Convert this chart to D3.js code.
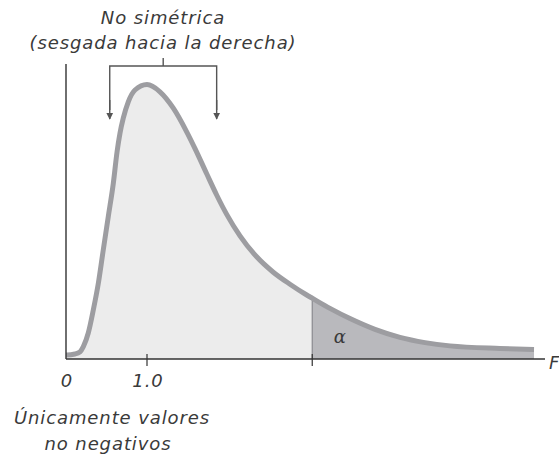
<!DOCTYPE html>
<html><head><meta charset="utf-8">
<script src="https://cdn.jsdelivr.net/npm/d3@7"></script>
<style>
body{margin:0;background:#fff;}
svg{display:block;}
text{font-family:"DejaVu Sans",sans-serif;font-weight:200;fill:#3a3a3a;}
</style></head>
<body>
<svg id="c" width="559" height="457"></svg>
<script>
// Density curve (x in F units, y in relative density)
const fx = [0.0, 0.012, 0.11, 0.173, 0.214, 0.275, 0.337, 0.399, 0.46, 0.522, 0.584, 0.63, 0.667, 0.707, 0.769, 0.852, 1.0, 1.16, 1.325, 1.49, 1.593, 1.737, 1.86, 1.984, 2.148, 2.354, 2.559, 2.765, 2.972, 3.04, 3.259, 3.506, 3.815, 4.123, 4.432, 4.741, 5.358, 5.778];
const fy = [0.01, 0.01, 0.0125, 0.018, 0.031, 0.065, 0.1225, 0.189, 0.2725, 0.356, 0.439, 0.5175, 0.565, 0.602, 0.643, 0.6725, 0.686, 0.668, 0.627, 0.568, 0.526, 0.463, 0.410, 0.3615, 0.3078, 0.2555, 0.217, 0.187, 0.160, 0.152, 0.1265, 0.101, 0.074, 0.054, 0.041, 0.0328, 0.0265, 0.024];
const critical = 3.04;
const tickValues = [1.0, critical];
const tickLabels = ["0", "1.0"];
const titleLines = ["No simétrica", "(sesgada hacia la derecha)"];
const noteLines = ["Únicamente valores", "no negativos"];

const data = fx.map((x, i) => ({x, y: fy[i]}));
const svg = d3.select("#c");
const x = d3.scaleLinear().domain([0, 1]).range([66, 147]);
const y = d3.scaleLinear().domain([0, 1]).range([359, -41]);

const curve = d3.curveMonotoneX;
const area = d3.area().x(d => x(d.x)).y0(y(0)).y1(d => y(d.y)).curve(curve);
const line = d3.line().x(d => x(d.x)).y(d => y(d.y)).curve(curve);

svg.append("path").datum(data.filter(d => d.x <= critical)).attr("d", area).attr("fill", "#ececec");
svg.append("path").datum(data.filter(d => d.x >= critical)).attr("d", area).attr("fill", "#b9b9bd");
const cy = fy[fx.indexOf(critical)];
svg.append("line").attr("x1", x(critical)).attr("x2", x(critical)).attr("y1", y(cy)).attr("y2", y(0))
  .attr("stroke", "#8a8a8e").attr("stroke-width", 1.2);
svg.append("path").datum(data).attr("d", line).attr("fill", "none").attr("stroke", "#9d9da1").attr("stroke-width", 5).attr("stroke-linejoin", "round");

// axes
svg.append("line").attr("x1", 66).attr("x2", 66).attr("y1", 64).attr("y2", 359).attr("stroke", "#333").attr("stroke-width", 1.4);
svg.append("line").attr("x1", 66).attr("x2", 545).attr("y1", 359).attr("y2", 359).attr("stroke", "#333").attr("stroke-width", 1.4);
svg.selectAll(".tk").data(tickValues).join("line").attr("x1", d => x(d)).attr("x2", d => x(d))
  .attr("y1", 354).attr("y2", 366).attr("stroke", "#333").attr("stroke-width", 1.2);

const txt = sel => sel.attr("font-size", 18).attr("font-style", "italic").attr("letter-spacing", 0.9);

svg.selectAll(".tl").data([0, 1.0]).join("text").attr("x", d => x(d) + 1).attr("y", 387)
  .attr("text-anchor", "middle").call(txt).text((d, i) => tickLabels[i]);

svg.append("text").attr("x", 549).attr("y", 369).call(txt).text("F");
svg.append("text").attr("x", x(3.38)).attr("y", 343).attr("text-anchor", "middle")
  .style("font-family", "'DejaVu Serif',serif").style("font-weight", 400).style("font-style", "italic").attr("font-size", 18).text("α");

// titles
svg.selectAll(".tt").data(titleLines).join("text").attr("x", 163).attr("y", (d, i) => 24 + i * 25)
  .attr("text-anchor", "middle").call(txt).text(d => d);
svg.selectAll(".nt").data(noteLines).join("text").attr("x", (d, i) => i ? 108 : 112).attr("y", (d, i) => 424 + i * 26)
  .attr("text-anchor", "middle").call(txt).text(d => d);

// bracket with arrows
const defs = svg.append("defs");
defs.append("marker").attr("id", "ah").attr("viewBox", "0 0 10 10").attr("refX", 9).attr("refY", 5)
  .attr("markerWidth", 7).attr("markerHeight", 9).attr("markerUnits", "userSpaceOnUse").attr("orient", "auto")
  .append("path").attr("d", "M0,0L10,5L0,10Z").attr("fill", "#555");
const bx = [0.54, 1.86];
svg.append("path").attr("d", `M${x(bx[0])},110V66H${x(bx[1])}V110`).attr("fill", "none").attr("stroke", "#555").attr("stroke-width", 1.4);
svg.append("line").attr("x1", x(bx[0])).attr("x2", x(bx[0])).attr("y1", 100).attr("y2", 119).attr("stroke", "#555").attr("stroke-width", 1.4).attr("marker-end", "url(#ah)");
svg.append("line").attr("x1", x(bx[1])).attr("x2", x(bx[1])).attr("y1", 100).attr("y2", 119).attr("stroke", "#555").attr("stroke-width", 1.4).attr("marker-end", "url(#ah)");
svg.append("line").attr("x1", (x(bx[0]) + x(bx[1])) / 2).attr("x2", (x(bx[0]) + x(bx[1])) / 2).attr("y1", 58).attr("y2", 66).attr("stroke", "#555").attr("stroke-width", 1.4);
</script>
</body></html>
